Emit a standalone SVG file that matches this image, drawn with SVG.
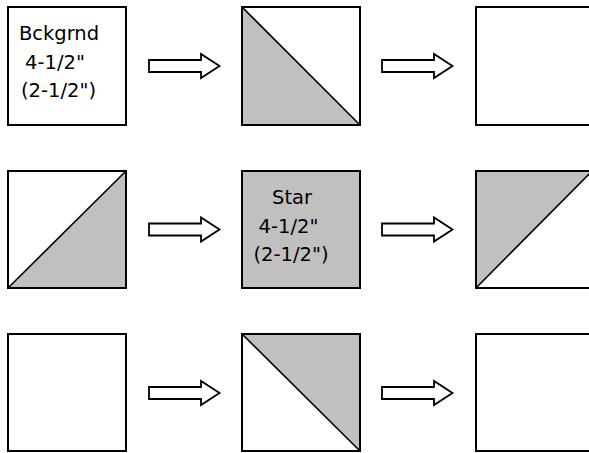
<svg xmlns="http://www.w3.org/2000/svg" width="589" height="453" viewBox="0 0 589 453">
  <style>
    .box { fill: #ffffff; stroke: #000000; stroke-width: 2; }
    .gray { fill: #c0c0c0; stroke: none; }
    .diag { fill: none; stroke: #000000; stroke-width: 1.6; }
    .frame { fill: none; stroke: #000000; stroke-width: 2; }
    .arrow { fill: #ffffff; stroke: #000000; stroke-width: 1.8; stroke-linejoin: miter; }
    .lbl { font-family: "DejaVu Sans", "Liberation Sans", sans-serif; font-size: 19.5px; fill: #000000; text-anchor: middle; }
  </style>
  <defs>
    <path id="arr" class="arrow" d="M0,-6 H52 V-12 L70.5,0 L52,12 V6 H0 Z"/>
  </defs>
  <rect width="589" height="453" fill="#ffffff"/>

  <!-- Row 1 -->
  <g id="r1c1">
    <rect class="box" x="8" y="7" width="118" height="118"/>
    <text class="lbl" x="59" y="40">Bckgrnd</text>
    <text class="lbl" x="55" y="69">4-1/2"</text>
    <text class="lbl" x="58.5" y="97">(2-1/2")</text>
  </g>
  <g id="r1c2">
    <rect class="box" x="242" y="7" width="118" height="118"/>
    <polygon class="gray" points="242,7 242,125 360,125"/>
    <line class="diag" x1="242" y1="7" x2="360" y2="125"/>
    <rect class="frame" x="242" y="7" width="118" height="118"/>
  </g>
  <g id="r1c3">
    <rect class="box" x="476" y="7" width="118" height="118"/>
  </g>

  <!-- Row 2 -->
  <g id="r2c1">
    <rect class="box" x="8" y="171" width="118" height="117"/>
    <polygon class="gray" points="126,171 126,288 8,288"/>
    <line class="diag" x1="8" y1="288" x2="126" y2="171"/>
    <rect class="frame" x="8" y="171" width="118" height="117"/>
  </g>
  <g id="r2c2">
    <rect class="box" x="242" y="171" width="118" height="117" style="fill:#c0c0c0"/>
    <text class="lbl" x="292" y="204">Star</text>
    <text class="lbl" x="288.5" y="233">4-1/2"</text>
    <text class="lbl" x="291" y="261">(2-1/2")</text>
  </g>
  <g id="r2c3">
    <rect class="box" x="476" y="171" width="116" height="117"/>
    <polygon class="gray" points="476,171 592,171 476,288"/>
    <line class="diag" x1="476" y1="288" x2="592" y2="171"/>
    <rect class="frame" x="476" y="171" width="116" height="117"/>
  </g>

  <!-- Row 3 -->
  <g id="r3c1">
    <rect class="box" x="8" y="334" width="118" height="117"/>
  </g>
  <g id="r3c2">
    <rect class="box" x="242" y="334" width="118" height="117"/>
    <polygon class="gray" points="242,334 360,334 360,451"/>
    <line class="diag" x1="242" y1="334" x2="360" y2="451"/>
    <rect class="frame" x="242" y="334" width="118" height="117"/>
  </g>
  <g id="r3c3">
    <rect class="box" x="476" y="334" width="118" height="117"/>
  </g>

  <!-- Connectors -->
  <g id="connectors">
    <use href="#arr" x="149" y="66"/>
    <use href="#arr" x="382" y="66"/>
    <use href="#arr" x="149" y="229.5"/>
    <use href="#arr" x="382" y="229.5"/>
    <use href="#arr" x="149" y="393"/>
    <use href="#arr" x="382" y="393"/>
  </g>
</svg>
